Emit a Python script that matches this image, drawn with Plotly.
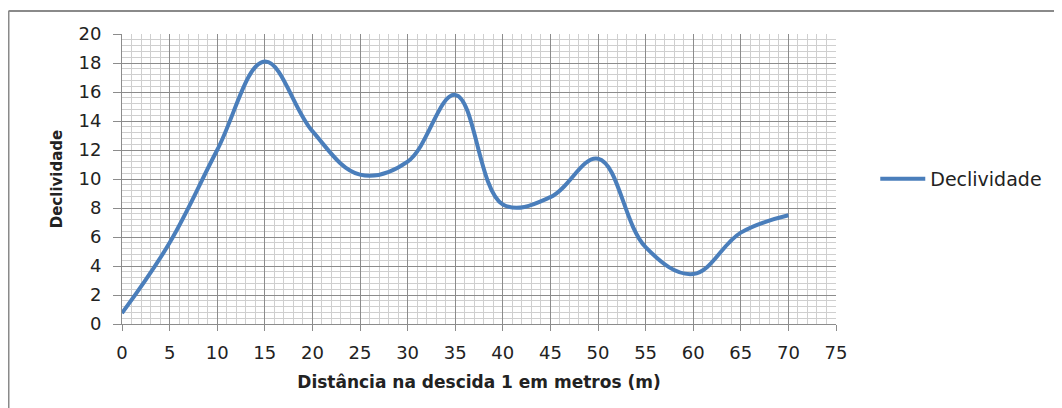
import plotly.graph_objects as go

distancia = [0, 5, 10, 15, 20, 25, 30, 35, 40, 45, 50, 55, 60, 65, 70]
declividade = [0.75, 5.6, 12.0, 18.1, 13.3, 10.3, 11.2, 15.8, 8.25, 8.75, 11.4, 5.3, 3.45, 6.3, 7.5]
x_ticks = list(range(0, 80, 5))
y_ticks = list(range(0, 22, 2))

# page has an 8px body margin, so figure coordinates are offset by 8px
W, H = 1054, 400
L, R, T, B = 114, 226, 26, 84

fig = go.Figure()
fig.add_trace(go.Scatter(
    x=distancia, y=declividade, mode="lines", name="Declividade",
    line=dict(color="#4a7ebb", width=4, shape="spline", smoothing=1.1),
))

font_main = "DejaVu Sans"
fig.update_layout(
    width=W, height=H,
    margin=dict(l=L, r=R, t=T, b=B),
    paper_bgcolor="white", plot_bgcolor="white",
    font=dict(family=font_main, size=14, color="#222222"),
    showlegend=True,
    legend=dict(x=1.055, y=0.5, xanchor="left", yanchor="middle",
                font=dict(size=19, family=font_main, color="#222222"),
                itemwidth=45,
                bgcolor="rgba(0,0,0,0)"),
    xaxis=dict(
        range=[0, 75], tickvals=x_ticks, ticktext=[str(v) for v in x_ticks],
        showgrid=True, gridcolor="#8c8c8c", gridwidth=1,
        minor=dict(dtick=1, showgrid=True, gridcolor="#cfcfcf", gridwidth=1),
        ticks="outside", ticklen=6, tickcolor="#8c8c8c",
        ticklabelstandoff=6,
        showline=True, linecolor="#8c8c8c", linewidth=1, zeroline=False,
        tickfont=dict(size=18, family=font_main),
        title=dict(text="<b>Distância na descida 1 em metros (m)</b>",
                   font=dict(size=17, family=font_main), standoff=14),
    ),
    yaxis=dict(
        range=[0, 20], tickvals=y_ticks, ticktext=[str(v) for v in y_ticks],
        showgrid=True, gridcolor="#8c8c8c", gridwidth=1,
        minor=dict(dtick=0.4, showgrid=True, gridcolor="#cfcfcf", gridwidth=1),
        ticks="outside", ticklen=8, tickcolor="#8c8c8c",
        ticklabelstandoff=8,
        showline=True, linecolor="#8c8c8c", linewidth=1, zeroline=False,
        tickfont=dict(size=18, family=font_main),
        title=dict(text="<b>Declividade</b>",
                   font=dict(size=15, family=font_main), standoff=12),
    ),
)

# outer chart border (left and top edges visible)
pw, ph = W - L - R, H - T - B
def px(x):
    return (x - 8 - L) / pw
def py(y):
    return (H - B - (y - 8)) / ph
fig.add_shape(type="line", xref="paper", yref="paper",
              x0=px(8.5), x1=px(1075), y0=py(11), y1=py(11),
              line=dict(color="#8a8a8a", width=2))
fig.add_shape(type="line", xref="paper", yref="paper",
              x0=px(8.5), x1=px(8.5), y0=py(11), y1=py(420),
              line=dict(color="#8a8a8a", width=2))

fig.write_html("out.html")
